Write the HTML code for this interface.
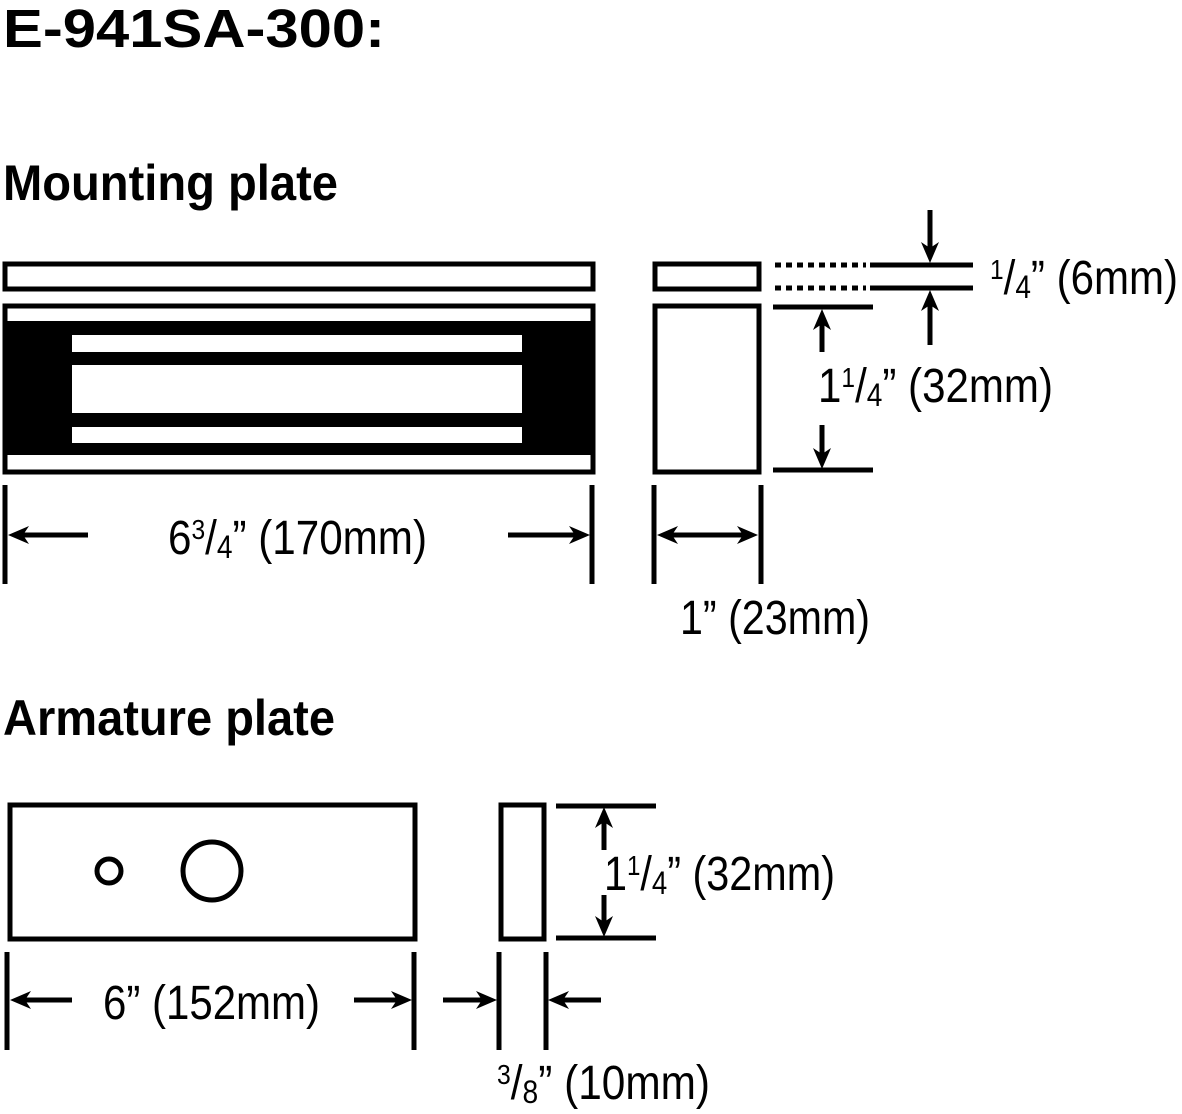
<!DOCTYPE html>
<html><head><style>html,body{margin:0;padding:0;background:#fff}svg{display:block}</style></head>
<body>
<svg width="1182" height="1114" viewBox="0 0 1182 1114" xmlns="http://www.w3.org/2000/svg" font-family="'Liberation Sans', Arial, sans-serif">
<g font-weight="bold">
<text x="3" y="47" font-size="54" textLength="382" lengthAdjust="spacingAndGlyphs">E-941SA-300:</text>
<text x="3" y="200" font-size="50" textLength="335" lengthAdjust="spacingAndGlyphs">Mounting plate</text>
<text x="3" y="735" font-size="50" textLength="332" lengthAdjust="spacingAndGlyphs">Armature plate</text>
</g>
<g fill="none" stroke="#000" stroke-width="5">
<rect x="5" y="264" width="588" height="25"/>
<rect x="5" y="306" width="588" height="166"/>
<rect x="655" y="264" width="104" height="25"/>
<rect x="655" y="306" width="104" height="166"/>
<line x1="775" y1="265" x2="866" y2="265" stroke-dasharray="6,5"/>
<line x1="775" y1="288" x2="866" y2="288" stroke-dasharray="6,5"/>
<line x1="870" y1="265" x2="973" y2="265"/>
<line x1="870" y1="288" x2="973" y2="288"/>
<line x1="773" y1="307" x2="873" y2="307"/>
<line x1="773" y1="470" x2="873" y2="470"/>
<line x1="822" y1="352" x2="822" y2="320"/>
<line x1="822" y1="425" x2="822" y2="456"/>
<line x1="930" y1="210" x2="930" y2="250"/>
<line x1="930" y1="345" x2="930" y2="302"/>
<line x1="5" y1="485" x2="5" y2="584"/>
<line x1="592" y1="485" x2="592" y2="584"/>
<line x1="88" y1="535" x2="20" y2="535"/>
<line x1="508" y1="535" x2="576" y2="535"/>
<line x1="654" y1="485" x2="654" y2="584"/>
<line x1="761" y1="485" x2="761" y2="584"/>
<line x1="670" y1="535" x2="745" y2="535"/>
<rect x="10" y="805" width="405" height="134"/>
<circle cx="109" cy="871" r="12"/>
<circle cx="212" cy="871" r="29"/>
<rect x="501" y="805" width="43" height="134"/>
<line x1="556" y1="806" x2="656" y2="806"/>
<line x1="556" y1="938" x2="656" y2="938"/>
<line x1="604" y1="850" x2="604" y2="820"/>
<line x1="604" y1="895" x2="604" y2="924"/>
<line x1="7" y1="952" x2="7" y2="1050"/>
<line x1="414" y1="952" x2="414" y2="1050"/>
<line x1="72" y1="1000" x2="22" y2="1000"/>
<line x1="354" y1="1000" x2="400" y2="1000"/>
<line x1="499" y1="952" x2="499" y2="1050"/>
<line x1="546" y1="952" x2="546" y2="1050"/>
<line x1="443" y1="1000" x2="485" y2="1000"/>
<line x1="601" y1="1000" x2="560" y2="1000"/>
</g>
<g fill="#000">
<rect x="7" y="321" width="584" height="134"/>
<rect x="72" y="335" width="450" height="17" fill="#fff"/>
<rect x="72" y="365" width="450" height="48" fill="#fff"/>
<rect x="72" y="427" width="450" height="16" fill="#fff"/>
<polygon points="822,309 831,330 822,324 813,330"/>
<polygon points="822,469 831,448 822,454 813,448"/>
<polygon points="930,263 939,242 930,248 921,242"/>
<polygon points="930,290 939,311 930,305 921,311"/>
<polygon points="8,535 29,526 23,535 29,544"/>
<polygon points="590,535 569,526 575,535 569,544"/>
<polygon points="657,535 678,526 672,535 678,544"/>
<polygon points="758,535 737,526 743,535 737,544"/>
<polygon points="604,807 613,828 604,822 595,828"/>
<polygon points="604,937 613,916 604,922 595,916"/>
<polygon points="10,1000 31,991 25,1000 31,1009"/>
<polygon points="412,1000 391,991 397,1000 391,1009"/>
<polygon points="497,1000 476,991 482,1000 476,1009"/>
<polygon points="548,1000 569,991 563,1000 569,1009"/>
</g>
<g font-size="48">
<text x="168" y="554" textLength="259" lengthAdjust="spacingAndGlyphs">6<tspan font-size="28" dy="-15">3</tspan><tspan dy="15">/</tspan><tspan font-size="32" dy="4">4</tspan><tspan dy="-4">” (170mm)</tspan></text>
<text x="990" y="294" textLength="188" lengthAdjust="spacingAndGlyphs"><tspan font-size="28" dy="-15">1</tspan><tspan dy="15">/</tspan><tspan font-size="32" dy="4">4</tspan><tspan dy="-4">” (6mm)</tspan></text>
<text x="818" y="402" textLength="235" lengthAdjust="spacingAndGlyphs">1<tspan font-size="28" dy="-15">1</tspan><tspan dy="15">/</tspan><tspan font-size="32" dy="4">4</tspan><tspan dy="-4">” (32mm)</tspan></text>
<text x="680" y="634" textLength="190" lengthAdjust="spacingAndGlyphs">1” (23mm)</text>
<text x="604" y="890" textLength="231" lengthAdjust="spacingAndGlyphs">1<tspan font-size="28" dy="-15">1</tspan><tspan dy="15">/</tspan><tspan font-size="32" dy="4">4</tspan><tspan dy="-4">” (32mm)</tspan></text>
<text x="103" y="1019" textLength="217" lengthAdjust="spacingAndGlyphs">6” (152mm)</text>
<text x="497" y="1099" textLength="213" lengthAdjust="spacingAndGlyphs"><tspan font-size="28" dy="-15">3</tspan><tspan dy="15">/</tspan><tspan font-size="32" dy="4">8</tspan><tspan dy="-4">” (10mm)</tspan></text>
</g>
</svg>
</body></html>
